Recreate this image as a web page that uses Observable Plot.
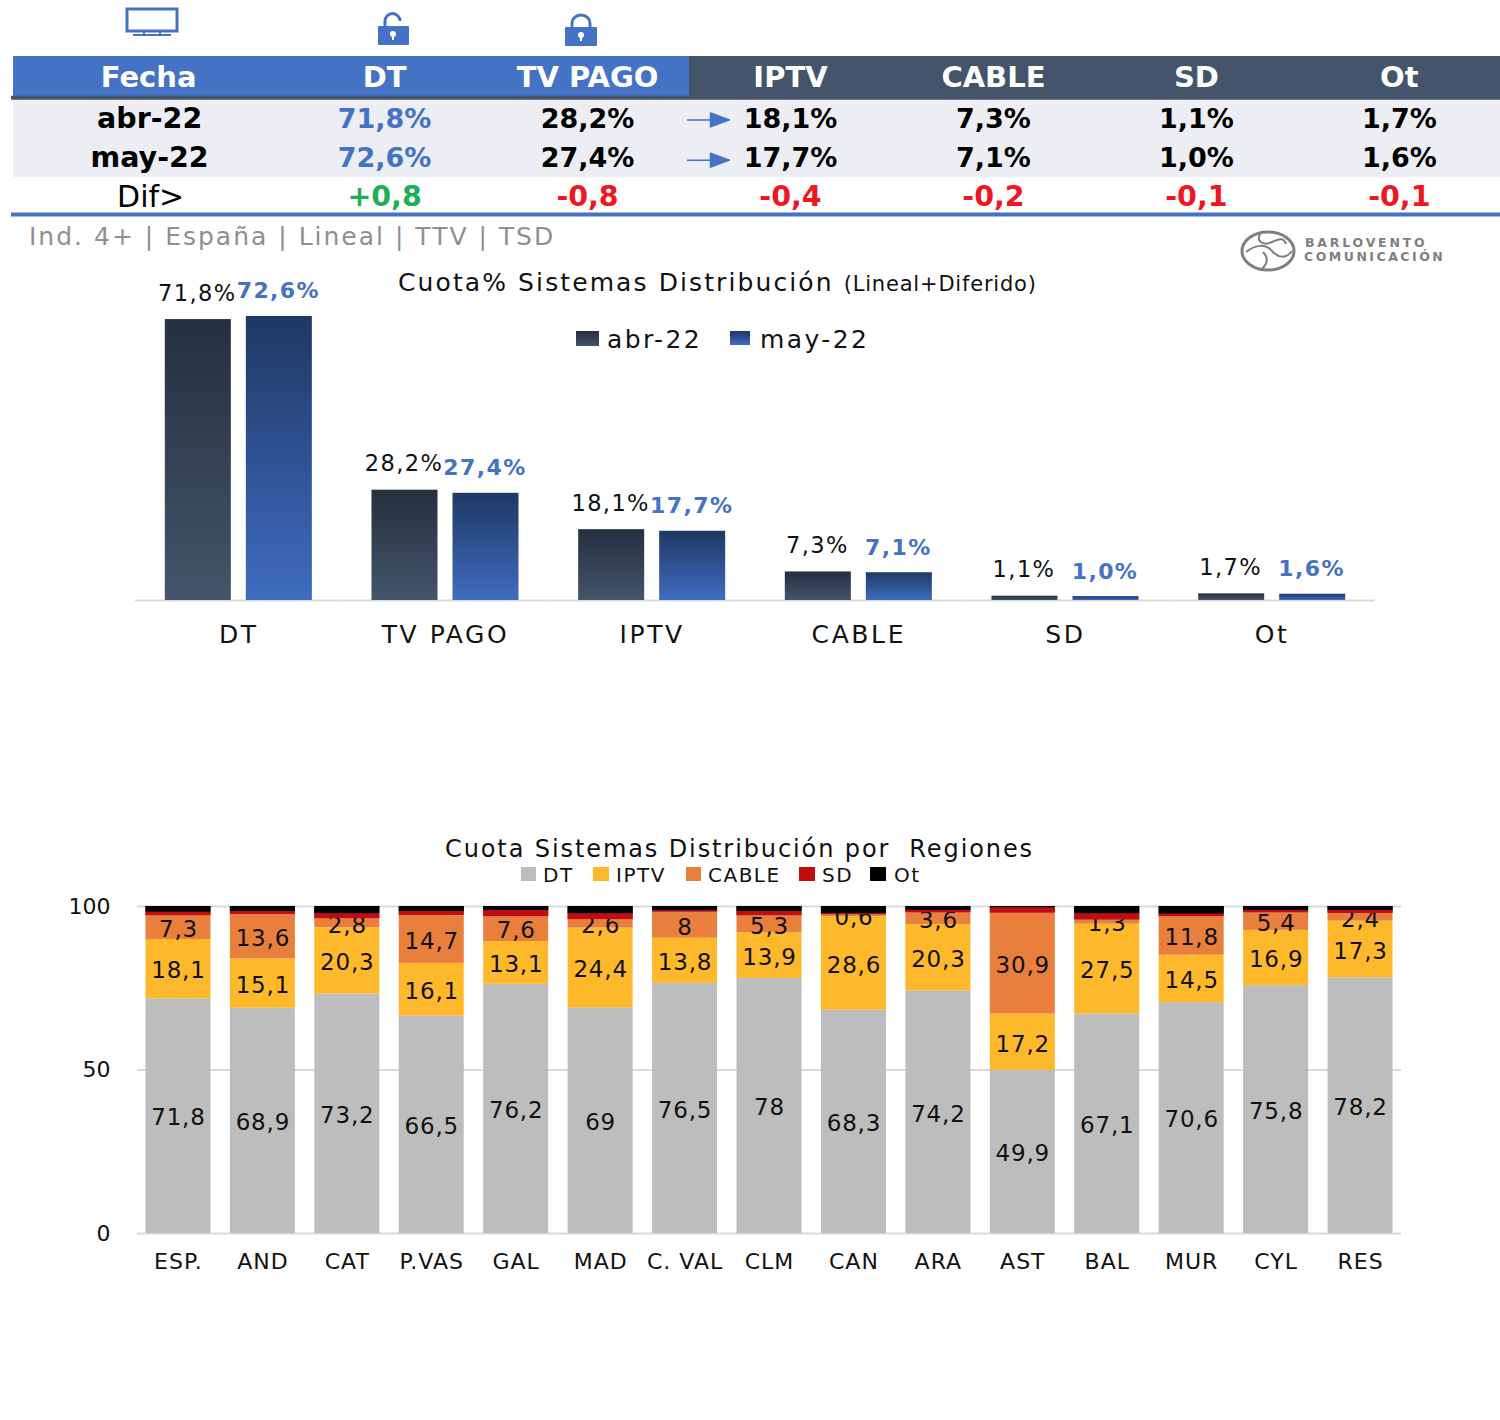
<!DOCTYPE html>
<html lang="es">
<head>
<meta charset="utf-8">
<title>Cuota Sistemas Distribución</title>
<script src="https://cdn.jsdelivr.net/npm/d3@7"></script>
<script src="https://cdn.jsdelivr.net/npm/@observablehq/plot@0.6"></script>
<style>
  html, body { margin: 0; padding: 0; background: #fff; }
  #page { position: relative; width: 1500px; height: 1420px; overflow: hidden; font-family: "DejaVu Sans", sans-serif; }
  #page > * { position: absolute; }
  .t { white-space: nowrap; line-height: 1; }
  .l2 { white-space: nowrap; line-height: 1; top: 865px; font-size: 20px; letter-spacing: 1.500px; color: #111; }
  .sw { display: block; }
  #chart1 g[aria-label="fx-axis tick label"] { letter-spacing: 2.6px; }
  #chart1 g[aria-label="text"]:not([font-weight]) { letter-spacing: 1.4px; }
  #chart2 g[aria-label="text"] { letter-spacing: .8px; }
  #chart2 g[aria-label="x-axis tick label"] { letter-spacing: 1px; }
</style>
</head>
<body>
<div id="page">
  <!-- header icons -->
  <svg style="left:124px;top:6px" width="56" height="32" viewBox="0 0 56 32"><rect x="3" y="3" width="50" height="22" fill="none" stroke="#4472c4" stroke-width="3"/><path d="M9 29H47" stroke="#4472c4" stroke-width="2"/><path d="M20 25V29M36 25V29" stroke="#4472c4" stroke-width="2"/></svg>
  <svg style="left:375px;top:11px" width="36" height="36" viewBox="0 0 36 36"><path d="M10 15V10a7.500 7.500 0 0 1 15 0" fill="none" stroke="#4472c4" stroke-width="3"/><rect x="3" y="15" width="31" height="19" rx="1" fill="#4472c4"/><circle cx="18" cy="23" r="3" fill="#fff"/><rect x="17" y="24" width="2" height="5" fill="#fff"/></svg>
  <svg style="left:563px;top:12px" width="36" height="36" viewBox="0 0 36 36"><path d="M9 16V11a9 8 0 0 1 18 0V16" fill="none" stroke="#4472c4" stroke-width="3"/><rect x="2" y="15" width="32" height="19" rx="1" fill="#4472c4"/><circle cx="18" cy="23" r="3" fill="#fff"/><rect x="17" y="24" width="2" height="5" fill="#fff"/></svg>

  <div id="table" style="left:0;top:0"></div>

  <div class="t" style="left:29px;top:224px;font-size:25px;letter-spacing:2px;color:#8f8f8f">Ind. 4+ | España | Lineal | TTV | TSD</div>

  <!-- logo -->
  <svg style="left:1238px;top:228px" width="62" height="46" viewBox="0 0 62 46"><ellipse cx="30" cy="23" rx="26" ry="19" fill="none" stroke="#7f7f7f" stroke-width="3"/><path d="M8 24c10-8 20-8 26-1s14 8 20 0M22 6c-4 8 4 12 12 8s12-4 14 2M24 41c6-6 6-12 1-17" fill="none" stroke="#7f7f7f" stroke-width="2"/></svg>
  <div class="t" style="left:1305px;top:237px;font-size:12.500px;letter-spacing:2.800px;color:#7f7f7f;font-weight:bold">BARLOVENTO</div>
  <div class="t" style="left:1304px;top:251px;font-size:12.500px;letter-spacing:2.500px;color:#7f7f7f;font-weight:bold">COMUNICACIÓN</div>

  <div class="t" style="left:398px;top:270px;font-size:25px;letter-spacing:2.100px;color:#111"><span id="ttl1">Cuota% Sistemas Distribución</span> <span style="font-size:21px;letter-spacing:.8px">(Lineal+Diferido)</span></div>

  <!-- legend, first chart -->
  <div class="sw" style="left:576px;top:331px;width:23px;height:15px;background:linear-gradient(#25303f,#44546a)"></div>
  <div class="t" style="left:607px;top:327px;font-size:25px;letter-spacing:2.400px;color:#111">abr-22</div>
  <div class="sw" style="left:730px;top:331px;width:20px;height:14px;background:linear-gradient(#1f3864,#3f6cc0)"></div>
  <div class="t" style="left:760px;top:327px;font-size:25px;letter-spacing:2.400px;color:#111">may-22</div>

  <div id="chart1" style="left:0;top:270px"></div>

  <div class="t" style="left:445px;top:837px;font-size:24px;letter-spacing:1.900px;color:#111">Cuota Sistemas Distribución por&nbsp; Regiones</div>
  <!-- legend, second chart -->
  <div class="sw" style="left:521px;top:867px;width:15px;height:14px;background:#bdbdbd"></div>
  <div class="l2" style="left:543px">DT</div>
  <div class="sw" style="left:593px;top:867px;width:16px;height:14px;background:#fdb92b"></div>
  <div class="l2" style="left:616px">IPTV</div>
  <div class="sw" style="left:686px;top:867px;width:15px;height:14px;background:#e97f3c"></div>
  <div class="l2" style="left:708px">CABLE</div>
  <div class="sw" style="left:799px;top:867px;width:16px;height:14px;background:#c00d12"></div>
  <div class="l2" style="left:822px">SD</div>
  <div class="sw" style="left:870px;top:867px;width:16px;height:14px;background:#000"></div>
  <div class="l2" style="left:894px">Ot</div>

  <div id="chart2" style="left:0;top:880px"></div>
</div>

<script>
// ---------- summary table ----------
const tableColumns = ["Fecha", "DT", "TV PAGO", "IPTV", "CABLE", "SD", "Ot"];
const tableRows = ["head", "abr-22", "may-22", "Dif>"];
const abrLabels = ["71,8%", "28,2%", "18,1%", "7,3%", "1,1%", "1,7%"];
const mayLabels = ["72,6%", "27,4%", "17,7%", "7,1%", "1,0%", "1,6%"];
const difLabels = ["+0,8", "-0,8", "-0,4", "-0,2", "-0,1", "-0,1"];

// ---------- first chart ----------
const systems = ["DT", "TV PAGO", "IPTV", "CABLE", "SD", "Ot"];
const months = ["abr-22", "may-22"];
const abrValues = [71.8, 28.2, 18.1, 7.3, 1.1, 1.7];
const mayValues = [72.6, 27.4, 17.7, 7.1, 1.0, 1.6];

// ---------- second chart ----------
const regions = ["ESP.", "AND", "CAT", "P.VAS", "GAL", "MAD", "C. VAL", "CLM", "CAN", "ARA", "AST", "BAL", "MUR", "CYL", "RES"];
const seriesNames = ["DT", "IPTV", "CABLE", "SD", "Ot"];
const dtValues    = [71.8, 68.9, 73.2, 66.5, 76.2, 69, 76.5, 78, 68.3, 74.2, 49.9, 67.1, 70.6, 75.8, 78.2];
const iptvValues  = [18.1, 15.1, 20.3, 16.1, 13.1, 24.4, 13.8, 13.9, 28.6, 20.3, 17.2, 27.5, 14.5, 16.9, 17.3];
const cableValues = [7.3, 13.6, 2.8, 14.7, 7.6, 2.6, 8, 5.3, 0.6, 3.6, 30.9, 1.3, 11.8, 5.4, 2.4];
const sdValues    = [1.1, 0.9, 1.5, 1.2, 1.9, 1.8, 0.4, 1.3, 0.3, 0.7, 1.6, 1.9, 0.8, 0.7, 0.9];
const otValues    = [1.7, 1.5, 2.2, 1.5, 1.2, 2.2, 1.3, 1.5, 2.2, 1.2, 0.4, 2.2, 2.3, 1.2, 1.2];

const FONT = "DejaVu Sans, sans-serif";
const comma = v => String(v).replace(".", ",");

// ---------- table ----------
const valueColumns = tableColumns.slice(1);
const cellsOf = (row, labels) => labels.map((text, i) => ({row, col: valueColumns[i], text}));
const abrCells = cellsOf("abr-22", abrLabels);
const mayCells = cellsOf("may-22", mayLabels);
const difCells = cellsOf("Dif>", difLabels);
const arrowShape = {
  draw(ctx, l) {
    ctx.moveTo(0, 0); ctx.lineTo(0, -l + 17);
    ctx.moveTo(-7, -l + 19); ctx.lineTo(0, -l); ctx.lineTo(7, -l + 19); ctx.closePath();
  }
};
const tableTextStyle = {x: "col", y: "row", fontSize: 27, fontWeight: "bold", text: "text"};
const headStyle = {y: () => "head", text: d => d, fill: "#fff", fontSize: 29, fontWeight: "bold", dy: 1.5};
const rowLabelStyle = {x: () => "Fecha", y: d => d, text: d => d, fill: "#000", fontSize: 28.5, fontWeight: "bold", dx: -32};
const dtBlue = d => d.col === "DT" ? "#4472c4" : "#000";

const table = Plot.plot({
  width: 1500, height: 225,
  marginLeft: 11, marginRight: 0, marginTop: 56, marginBottom: 8,
  style: {fontFamily: FONT, background: "transparent"},
  x: {domain: tableColumns, range: [79.65, 1500.35], padding: 0, round: false, axis: null},
  y: {domain: tableRows, padding: 0, round: false, axis: null},
  marks: [
    Plot.cell(["abr-22", "may-22"], {y: d => d, fill: "#edeef3", insetLeft: 2, shapeRendering: "crispEdges"}),
    Plot.cell(["head"], {y: d => d, fill: "#4472c4", insetLeft: 2, shapeRendering: "crispEdges"}),
    Plot.cell(["IPTV", "CABLE", "SD", "Ot"], {x: d => d, y: () => "head", fill: "#44546a", shapeRendering: "crispEdges"}),
    Plot.ruleY(["head"], {y: d => d, stroke: "#44546a", strokeWidth: 4, dy: 21}),
    Plot.ruleY(["Dif>"], {y: d => d, stroke: "#4472c4", strokeWidth: 4, dy: 17}),
    Plot.text(valueColumns, {...headStyle, x: d => d}),
    Plot.text(["Fecha"], {...headStyle, x: d => d, dx: -33}),
    Plot.text(["abr-22"], {...rowLabelStyle, dy: 2}),
    Plot.text(["may-22"], {...rowLabelStyle, dy: 1}),
    Plot.text(["Dif>"], {x: () => "Fecha", y: d => d, text: d => d, fill: "#000", fontSize: 30, dx: -31, dy: 0}),
    Plot.text(abrCells, {...tableTextStyle, dy: 2, fill: dtBlue}),
    Plot.text(mayCells, {...tableTextStyle, dy: 1, fill: dtBlue}),
    Plot.text(difCells, {...tableTextStyle, fontSize: 28.5, dy: -1, fill: d => d.text.startsWith("+") ? "#1fae54" : "#ee1620"}),
    Plot.vector(["abr-22", "may-22"], {x: () => "IPTV", y: d => d, length: 42, rotate: 90, anchor: "start", dx: -103, dy: 3, shape: arrowShape, stroke: "#4472c4", fill: "#4472c4", strokeWidth: 1.5})
  ]
});
document.getElementById("table").append(table);

// ---------- first chart ----------
const toLong = (month, values) => values.map((value, i) => ({system: systems[i], month, value}));
const abrBars = toLong("abr-22", abrValues);
const mayBars = toLong("may-22", mayValues);
const pct = d => comma(d.value.toFixed(1)) + "%";

function gradients() {
  const defs = d3.create("svg:defs");
  const add = (id, a, b) => {
    const g = defs.append("linearGradient").attr("id", id).attr("x1", 0).attr("x2", 0).attr("y1", 0).attr("y2", 1);
    g.append("stop").attr("offset", "0%").attr("stop-color", a);
    g.append("stop").attr("offset", "100%").attr("stop-color", b);
  };
  add("gAbr", "#25303f", "#44546a");
  add("gMay", "#1f3864", "#3f6cc0");
  return defs.node();
}

const chart1 = Plot.plot({
  width: 1500, height: 400,
  marginLeft: 135, marginRight: 125, marginTop: 17, marginBottom: 70,
  style: {fontFamily: FONT, background: "transparent", overflow: "visible"},
  fx: {domain: systems, padding: 0, round: false, label: null},
  x: {domain: months, paddingInner: 0.185, paddingOuter: 0.368, round: false, axis: null},
  y: {domain: [0, 80], axis: null},
  marks: [
    gradients,
    Plot.ruleY([0], {stroke: "#d9d9d9", strokeWidth: 2}),
    Plot.barY(abrBars, {fx: "system", x: "month", y: "value", fill: "url(#gAbr)"}),
    Plot.barY(mayBars, {fx: "system", x: "month", y: "value", fill: "url(#gMay)"}),
    Plot.text(abrBars, {fx: "system", x: "month", y: "value", text: pct, dy: -26, dx: -1, fontSize: 22.500, fill: "#111"}),
    Plot.text(mayBars, {fx: "system", x: "month", y: "value", text: pct, dy: -25, dx: -1, fontSize: 22, fontWeight: "bold", fill: "#4472c4"}),
    Plot.axisFx({anchor: "bottom", tickSize: 0, tickPadding: 25, fontSize: 25, label: null, fill: "#111"})
  ]
});
document.getElementById("chart1").append(chart1);

// ---------- second chart ----------
const columns = {DT: dtValues, IPTV: iptvValues, CABLE: cableValues, SD: sdValues, Ot: otValues};
const stacked = seriesNames.flatMap(series => regions.map((region, i) => ({region, series, value: columns[series][i]})));
const stackOpts = {x: "region", y: "value", z: "series", order: seriesNames};
const colors = ["#bdbdbd", "#fdb92b", "#e97f3c", "#c00d12", "#000000"];

const chart2 = Plot.plot({
  width: 1500, height: 420,
  marginLeft: 137, marginRight: 99, marginTop: 26, marginBottom: 67,
  style: {fontFamily: FONT, background: "transparent", overflow: "visible"},
  x: {domain: regions, paddingInner: 0.23, paddingOuter: 0.1, round: false, label: null},
  y: {domain: [0, 100], label: null},
  color: {domain: seriesNames, range: colors},
  marks: [
    Plot.ruleY([0, 50, 100], {stroke: "#d9d9d9", strokeWidth: 2}),
    Plot.barY(stacked, Plot.stackY({...stackOpts, fill: "series"})),
    Plot.text(stacked, Plot.stackY({...stackOpts, text: d => ["DT", "IPTV", "CABLE"].includes(d.series) ? comma(d.value) : "", fontSize: 23, fill: "#111", dy: 2})),
    Plot.barY(stacked, Plot.stackY({...stackOpts, fill: "series", fillOpacity: d => (d.series === "SD" || d.series === "Ot") ? 1 : 0})),
    Plot.axisX({tickSize: 0, tickPadding: 20, fontSize: 22, label: null, fill: "#111"}),
    Plot.axisY({ticks: [0, 50, 100], tickSize: 0, tickPadding: 27, fontSize: 22, label: null, fill: "#111"})
  ]
});
document.getElementById("chart2").append(chart2);
</script>
</body>
</html>
